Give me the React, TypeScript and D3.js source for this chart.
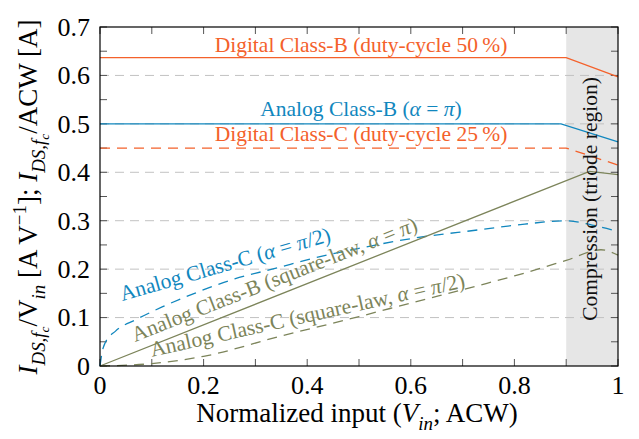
import React from 'react';
import { scaleLinear, line, curveMonotoneX, curveLinear, range } from 'd3';

// x = normalized input, y = current
const digitalB: [number, number][] = [[0, 0.6366], [0.9, 0.6366], [1, 0.597]];
const analogB: [number, number][] = [[0, 0.5], [0.89, 0.5], [1, 0.463]];
const digitalC: [number, number][] = [[0, 0.45], [0.9, 0.45], [1, 0.415]];
const analogC: [number, number][] = [
  [0, 0], [0.004, 0.028], [0.01, 0.048], [0.03, 0.072], [0.07, 0.096], [0.12, 0.122],
  [0.18, 0.149], [0.26, 0.18], [0.34, 0.202], [0.41, 0.222], [0.5, 0.243], [0.6, 0.263],
  [0.73, 0.281], [0.82, 0.293], [0.9, 0.3], [0.95, 0.291], [1, 0.278],
];
const squareB: [number, number][] = [[0, 0], [0.945, 0.402], [1, 0.395]];
const squareC: [number, number][] = [
  [0, 0], [0.1, 0.005], [0.2, 0.02], [0.35, 0.062], [0.5, 0.102], [0.6, 0.13],
  [0.73, 0.166], [0.8, 0.186], [0.9, 0.218], [0.967, 0.24], [1, 0.229],
];

const xTicks = [0, 0.2, 0.4, 0.6, 0.8, 1];
const xTickLabels = ['0', '0.2', '0.4', '0.6', '0.8', '1'];
const yTicks = [0, 0.1, 0.2, 0.3, 0.4, 0.5, 0.6, 0.7];
const yTickLabels = ['0', '0.1', '0.2', '0.3', '0.4', '0.5', '0.6', '0.7'];
const compression = [0.9, 1];

const ORANGE = '#f4612b';
const BLUE = '#1187be';
const OLIVE = '#7c845a';
const FONT = 'Liberation Serif';

type Seg = { t: string; i?: boolean; l?: number };

// l: 0 normal, 1 subscript, 2 sub-subscript, -1 superscript
function MathText({ segs, size }: { segs: Seg[]; size: number }) {
  const shift = (l: number) => (l === 1 ? 0.28 : l === 2 ? 0.45 : l === -1 ? -0.4 : 0) * size;
  const scale = (l: number) => (l === 1 || l === -1 ? 0.7 : l === 2 ? 0.5 : 1) * size;
  let cur = 0;
  return (
    <>
      {segs.map((s, k) => {
        const target = shift(s.l || 0);
        const dy = target - cur;
        cur = target;
        return (
          <tspan key={k} dy={dy} style={{ fontSize: scale(s.l || 0), fontStyle: s.i ? 'italic' : 'normal' }}>
            {s.t}
          </tspan>
        );
      })}
    </>
  );
}

export default function App() {
  const W = 639;
  const H = 439;
  const m = { left: 100, right: 618, top: 27, bottom: 366 };
  const x = scaleLinear().domain([0, 1]).range([m.left, m.right]);
  const y = scaleLinear().domain([0, 0.7]).range([m.bottom, m.top]);

  const lin = line<[number, number]>().x((d) => x(d[0])).y((d) => y(d[1])).curve(curveLinear);
  const smooth = line<[number, number]>().x((d) => x(d[0])).y((d) => y(d[1])).curve(curveMonotoneX);

  const xMinor = range(0, 11).map((i) => i / 10);
  const yMinor = range(0, 15).map((i) => i / 20);
  const tickLen = 7;
  const LS = 21.5;

  const rotLabel = (txt: Seg[], cx: number, cy: number, ang: number, color: string) => (
    <text
      x={cx}
      y={cy}
      transform={`rotate(${ang},${cx},${cy})`}
      textAnchor="middle"
      fill={color}
      style={{ fontFamily: FONT, fontSize: LS }}
    >
      <MathText segs={txt} size={LS} />
    </text>
  );

  return (
    <svg width={W} height={H} style={{ position: 'absolute', left: 0, top: 0, background: '#fff', fontFamily: FONT }}>
      <rect
        x={x(compression[0])}
        y={m.top}
        width={x(compression[1]) - x(compression[0])}
        height={m.bottom - m.top}
        fill="#e6e6e6"
      />
      {yTicks.slice(1, -1).map((v) => (
        <line key={v} x1={m.left} x2={m.right} y1={y(v)} y2={y(v)} stroke="#c2c2c2" strokeDasharray="9 6" strokeWidth={1} />
      ))}

      {/* ticks */}
      {xMinor.map((v) => (
        <g key={'x' + v} stroke="#555" strokeWidth={1}>
          <line x1={x(v)} x2={x(v)} y1={m.bottom} y2={m.bottom - tickLen} />
          <line x1={x(v)} x2={x(v)} y1={m.top} y2={m.top + tickLen} />
        </g>
      ))}
      {yMinor.map((v) => (
        <g key={'y' + v} stroke="#555" strokeWidth={1}>
          <line x1={m.left} x2={m.left + tickLen} y1={y(v)} y2={y(v)} />
          <line x1={m.right} x2={m.right - tickLen} y1={y(v)} y2={y(v)} />
        </g>
      ))}

      <g fill="none" strokeWidth={1.3}>
        <path d={lin(digitalB) || ''} stroke={ORANGE} />
        <path d={lin(analogB) || ''} stroke={BLUE} />
        <path d={lin(digitalC) || ''} stroke={ORANGE} strokeDasharray="10 7" />
        <path d={smooth(analogC) || ''} stroke={BLUE} strokeDasharray="10 7" />
        <path d={lin(squareB) || ''} stroke={OLIVE} />
        <path d={smooth(squareC) || ''} stroke={OLIVE} strokeDasharray="10 7" />
      </g>

      <rect x={m.left} y={m.top} width={m.right - m.left} height={m.bottom - m.top} fill="none" stroke="#000" strokeWidth={1.2} />

      {/* in-plot labels */}
      <g style={{ fontFamily: FONT, fontSize: LS }} textAnchor="middle">
        <text x={361} y={52} fill={ORANGE}>Digital Class-B (duty-cycle 50{'\u2009'}%)</text>
        <text x={361} y={116} fill={BLUE}>
          <MathText size={LS} segs={[{ t: 'Analog Class-B (' }, { t: 'α', i: true }, { t: ' = ' }, { t: 'π', i: true }, { t: ')' }]} />
        </text>
        <text x={361} y={141} fill={ORANGE}>Digital Class-C (duty-cycle 25{'\u2009'}%)</text>
        <text x={597} y={199} fill="#111" transform="rotate(-90,597,199)">Compression (triode region)</text>
      </g>
      {rotLabel([{ t: 'Analog Class-C (' }, { t: 'α', i: true }, { t: ' = ' }, { t: 'π', i: true }, { t: '/2)' }], 227, 271, -16, BLUE)}
      {rotLabel([{ t: 'Analog Class-B (square-law, ' }, { t: 'α', i: true }, { t: ' = ' }, { t: 'π', i: true }, { t: ')' }], 277, 286, -21.5, OLIVE)}
      {rotLabel([{ t: 'Analog Class-C (square-law, ' }, { t: 'α', i: true }, { t: ' = ' }, { t: 'π', i: true }, { t: '/2)' }], 309, 322, -12.5, OLIVE)}

      {/* tick labels */}
      <g style={{ fontFamily: FONT, fontSize: 26 }} fill="#000">
        {xTicks.map((v, i) => (
          <text key={v} x={x(v)} y={394} textAnchor="middle">{xTickLabels[i]}</text>
        ))}
        {yTicks.map((v, i) => (
          <text key={v} x={90} y={y(v)} dy="0.34em" textAnchor="end">{yTickLabels[i]}</text>
        ))}
      </g>

      {/* axis labels */}
      <text x={357} y={422} textAnchor="middle" style={{ fontFamily: FONT, fontSize: 27 }}>
        <MathText
          size={27}
          segs={[{ t: 'Normalized input (' }, { t: 'V', i: true }, { t: 'in', i: true, l: 1 }, { t: '; ACW)' }]}
        />
      </text>
      <text x={37} y={197} transform="rotate(-90,37,197)" textAnchor="middle" style={{ fontFamily: FONT, fontSize: 27 }}>
        <MathText
          size={27}
          segs={[
            { t: 'I', i: true },
            { t: 'DS,', i: true, l: 1 },
            { t: 'f', i: true, l: 1 },
            { t: 'c', i: true, l: 2 },
            { t: '/V' },
            { t: 'in', i: true, l: 1 },
            { t: ' [A V' },
            { t: '−1', l: -1 },
            { t: ']; ' },
            { t: 'I', i: true },
            { t: 'DS,', i: true, l: 1 },
            { t: 'f', i: true, l: 1 },
            { t: 'c', i: true, l: 2 },
            { t: '/ACW [A]' },
          ]}
        />
      </text>
    </svg>
  );
}
